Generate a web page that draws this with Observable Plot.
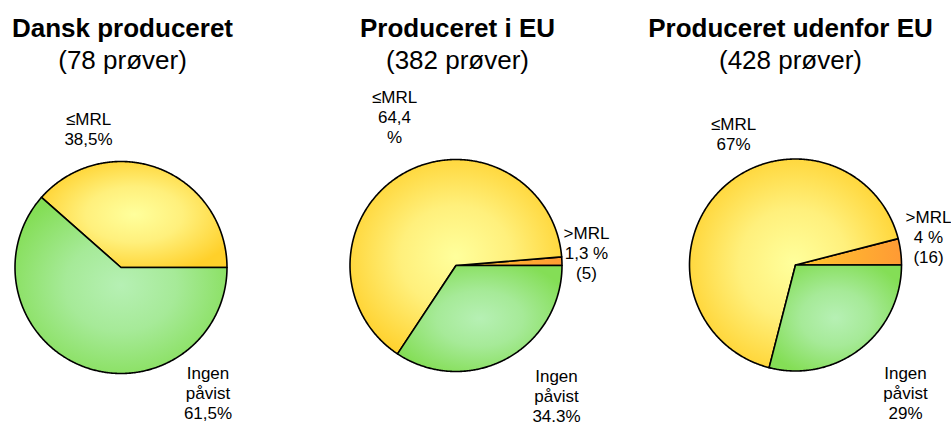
<!DOCTYPE html>
<html><head><meta charset="utf-8">
<script src="https://cdn.jsdelivr.net/npm/d3@7"></script>
<script src="https://cdn.jsdelivr.net/npm/@observablehq/plot@0.6"></script>
<style>html,body{margin:0;padding:0;background:#fff}#chart svg{display:block}</style>
</head><body><div id="chart"></div>
<script>
// ---- data ----
const groups = ["Dansk produceret", "Produceret i EU", "Produceret udenfor EU"];
const sampleCounts = [78, 382, 428];
const categories = [">MRL", "≤MRL", "Ingen påvist"];
const danskValues = [0, 38.5, 61.5];
const euValues = [1.3, 64.4, 34.3];
const nonEuValues = [4, 67, 29];
const danskLabels = ["", "≤MRL\n38,5%", "Ingen\npåvist\n61,5%"];
const euLabels = [">MRL\n1,3 %\n(5)", "≤MRL\n64,4\n%", "Ingen\npåvist\n34.3%"];
const nonEuLabels = [">MRL\n4 %\n(16)", "≤MRL\n67%", "Ingen\npåvist\n29%"];

// ---- layout ----
const W = 951, H = 424, R = 106, CY = 265.5;
const centersPx = [[120.5, 267], [455.5, 265], [795, 264.5]];
const pieX = centersPx.map(c => (c[0] - centersPx[0][0]) / R);
const pieY = centersPx.map(c => (CY - c[1]) / R);
const titleDx = [1.5, 1.5, -5];
// label anchor offsets (px) from pie centre: [dx, dy of last baseline]
const labelOffsets = [
  [null, [-32.5, -121.5], [87, 152.5]],
  [[130.5, 12.5], [-61.5, -123.5], [100.5, 155.5]],
  [[133, -3.5], [-62, -116.5], [110, 152.5]]
];
const fills = ["url(#g-orange)", "url(#g-yellow)", "url(#g-green)"];
const font = "'Liberation Sans', Arial, Helvetica, sans-serif";

const seriesValues = [danskValues, euValues, nonEuValues];
const seriesLabels = [danskLabels, euLabels, nonEuLabels];

// build slice polygons from the values
const marks = [];
seriesValues.forEach((vals, p) => {
  const total = d3.sum(vals);
  let acc = 0;
  vals.forEach((v, k) => {
    if (!v) return;
    const a0 = acc / total * 2 * Math.PI;
    acc += v;
    const a1 = acc / total * 2 * Math.PI;
    const n = Math.max(2, Math.ceil((a1 - a0) / (Math.PI / 360)));
    const pts = [{x: pieX[p], y: pieY[p]}];
    for (let j = 0; j <= n; j++) {
      const a = a0 + (a1 - a0) * j / n;
      pts.push({x: pieX[p] + Math.cos(a), y: pieY[p] + Math.sin(a)});
    }
    pts.push({x: pieX[p], y: pieY[p]});
    marks.push(Plot.line(pts, {x: "x", y: "y", fill: fills[k], stroke: "#000",
      strokeWidth: 1.6, strokeLinejoin: "round", curve: "linear"}));
  });
});

// slice labels
const labelRows = [];
seriesLabels.forEach((labs, p) => labs.forEach((t, k) => {
  if (!t || !labelOffsets[p][k]) return;
  const [dx, dy] = labelOffsets[p][k];
  labelRows.push({x: pieX[p] + dx / R, y: -dy / R, text: t});
}));

marks.push(Plot.text(labelRows, {x: "x", y: "y", text: "text", lineAnchor: "bottom",
  lineHeight: 20 / 17, fontSize: 17, fontFamily: font, fill: "#000", textAnchor: "middle"}));

// titles and subtitles
marks.push(Plot.text(groups, {x: (d, i) => pieX[i] + titleDx[i] / R, text: d => d,
  frameAnchor: "top", dy: 36, lineAnchor: "bottom", fontSize: 26, fontWeight: "bold",
  fontFamily: font, fill: "#000"}));
marks.push(Plot.text(sampleCounts, {x: (d, i) => pieX[i] + titleDx[i] / R, text: d => `(${d} prøver)`,
  frameAnchor: "top", dy: 68, lineAnchor: "bottom", fontSize: 26,
  fontFamily: font, fill: "#000"}));

const chart = Plot.plot({
  width: W, height: H,
  margin: 0,
  x: {domain: [-centersPx[0][0] / R, (W - centersPx[0][0]) / R], axis: null},
  y: {domain: [(CY - H) / R, CY / R], axis: null},
  style: {fontFamily: font, background: "#fff", overflow: "visible"},
  marks
});

// gradients
const svg = d3.select(chart);
const defs = svg.insert("defs", ":first-child");
const yg = defs.append("radialGradient").attr("id", "g-yellow").attr("cx", 0.5).attr("cy", 0.5).attr("r", 0.58);
yg.append("stop").attr("offset", 0).attr("stop-color", "#ffff9c");
yg.append("stop").attr("offset", 0.45).attr("stop-color", "#fff07c");
yg.append("stop").attr("offset", 1).attr("stop-color", "#ffd02a");
const gg = defs.append("radialGradient").attr("id", "g-green").attr("cx", 0.5).attr("cy", 0.5).attr("r", 0.58);
gg.append("stop").attr("offset", 0).attr("stop-color", "#b6f0b4");
gg.append("stop").attr("offset", 0.45).attr("stop-color", "#a6ea98");
gg.append("stop").attr("offset", 1).attr("stop-color", "#84de56");
const og = defs.append("linearGradient").attr("id", "g-orange").attr("x1", 0).attr("x2", 1).attr("y1", 0).attr("y2", 0);
og.append("stop").attr("offset", 0).attr("stop-color", "#ffc82e");
og.append("stop").attr("offset", 1).attr("stop-color", "#ff9a34");

document.getElementById("chart").appendChild(chart);
</script>
</body></html>
